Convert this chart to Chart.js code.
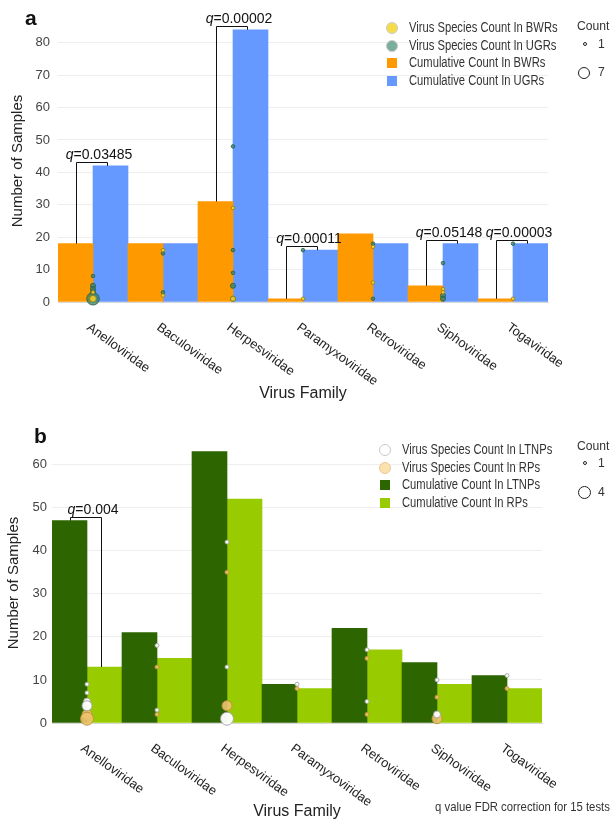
<!DOCTYPE html>
<html>
<head>
<meta charset="utf-8">
<script src="https://cdn.jsdelivr.net/npm/chart.js@4"></script>
<style>
  body { margin: 0; background: #fff; font-family: "Liberation Sans", Arial, sans-serif; }
  .panel { position: absolute; left: 0; width: 613px; }
  .tag { position: absolute; font: bold 21px "Liberation Sans", Arial, sans-serif; color: #111; }
  .leg { position: absolute; font: 14px "Liberation Sans", Arial, sans-serif; color: #333; line-height: 17.5px; }
  .leg div { position: relative; padding-left: 27px; white-space: nowrap; }
  .leg i { font-style: normal; display: inline-block; transform: scaleX(0.8); transform-origin: 0 50%; }
  .leg span { position: absolute; left: 5px; top: 4px; width: 10px; height: 10px; box-sizing: border-box; }
  .leg span.dot { left: 4px; top: 3px; width: 12px; height: 12px; border-radius: 50%; }
  .cnt { position: absolute; font: 13.5px "Liberation Sans", Arial, sans-serif; color: #333; transform: scaleX(0.9); transform-origin: 0 50%; }
  .ring { position: absolute; border: 1px solid #222; border-radius: 50%; box-sizing: border-box; }
  .note { position: absolute; right: 3px; top: 799px; font: 13px "Liberation Sans", Arial, sans-serif; color: #333; transform: scaleX(0.87); transform-origin: 100% 50%; white-space: nowrap; }
</style>
</head>
<body>

<div class="panel" style="top:0;height:410px">
  <canvas id="chartA" width="613" height="410"></canvas>
  <div class="tag" style="left:25px;top:6px">a</div>
  <div class="leg" style="left:382px;top:19px">
    <div><span class="dot" style="background:#f7dc4a;border:1px solid #c9c9c9"></span><i>Virus Species Count In BWRs</i></div>
    <div><span class="dot" style="background:#79ad9c;border:1px solid #c9c9c9"></span><i>Virus Species Count In UGRs</i></div>
    <div><span style="background:#ff9900"></span><i>Cumulative Count In BWRs</i></div>
    <div><span style="background:#6699ff"></span><i>Cumulative Count In UGRs</i></div>
  </div>
  <div class="cnt" style="left:577px;top:18px">Count</div>
  <div class="ring" style="left:583px;top:42px;width:4px;height:4px"></div>
  <div class="cnt" style="left:598px;top:36px">1</div>
  <div class="ring" style="left:578px;top:67px;width:12px;height:12px"></div>
  <div class="cnt" style="left:598px;top:64px">7</div>
</div>

<div class="panel" style="top:410px;height:414px">
  <canvas id="chartB" width="613" height="414"></canvas>
  <div class="tag" style="left:34px;top:14px">b</div>
  <div class="leg" style="left:375px;top:31px">
    <div><span class="dot" style="background:#fff;border:1px solid #c9c9c9"></span><i>Virus Species Count In LTNPs</i></div>
    <div><span class="dot" style="background:#fbe0b0;border:1px solid #e8c890"></span><i>Virus Species Count In RPs</i></div>
    <div><span style="background:#2d6600"></span><i>Cumulative Count In LTNPs</i></div>
    <div><span style="background:#99cc00"></span><i>Cumulative Count In RPs</i></div>
  </div>
  <div class="cnt" style="left:577px;top:28px">Count</div>
  <div class="ring" style="left:583px;top:51px;width:4px;height:4px"></div>
  <div class="cnt" style="left:598px;top:45px">1</div>
  <div class="ring" style="left:578px;top:76px;width:13px;height:13px"></div>
  <div class="cnt" style="left:598px;top:74px">4</div>
</div>

<div class="note">q value FDR correction for 15 tests</div>

<script>
// categories
const families = ['Anelloviridae', 'Baculoviridae', 'Herpesviridae', 'Paramyxoviridae', 'Retroviridae', 'Siphoviridae', 'Togaviridae'];

// panel a: cumulative sample counts
const bwrTotals = [18, 18, 31, 1, 21, 5, 1];
const ugrTotals = [42, 18, 84, 16, 18, 18, 18];

// panel b: cumulative sample counts
const ltnpTotals = [47, 21, 63, 9, 22, 14, 11];
const rpTotals = [13, 15, 52, 8, 17, 9, 8];

// species points: [family index, number of samples, species count]
const bwrSpecies = [[0, 3, 1], [0, 1, 3], [1, 16, 1], [1, 2, 1], [2, 29, 1], [2, 1, 2], [3, 1, 1],
  [4, 17, 1], [4, 6, 1], [5, 4, 1], [5, 3, 1], [6, 1, 1]];
const ugrSpecies = [[0, 8, 1], [0, 5, 2], [0, 4, 2], [0, 3, 2], [0, 1, 7], [1, 15, 1], [1, 3, 1],
  [2, 48, 1], [2, 16, 1], [2, 9, 1], [2, 5, 2], [2, 1, 2], [3, 16, 1], [4, 18, 1], [4, 1, 1],
  [5, 12, 1], [5, 2, 2], [5, 1, 2], [6, 18, 1]];
const ltnpSpecies = [[0, 9, 1], [0, 7, 1], [0, 5, 2], [0, 4, 3], [1, 18, 1], [1, 3, 1], [2, 42, 1],
  [2, 13, 1], [2, 1, 4], [3, 9, 1], [4, 17, 1], [4, 5, 1], [5, 10, 1], [5, 2, 2], [6, 11, 1]];
const rpSpecies = [[0, 2, 3], [0, 1, 4], [1, 13, 1], [1, 2, 1], [2, 35, 1], [2, 4, 3], [3, 8, 1],
  [4, 15, 1], [4, 2, 1], [5, 6, 1], [5, 1, 3], [6, 8, 1]];

// q values: [family index, label]
const qA = [[0, '0.03485'], [2, '0.00002'], [3, '0.00011'], [5, '0.05148'], [6, '0.00003']];
const qB = [[0, '0.004']];

const FONT = '"Liberation Sans", Arial, sans-serif';

function bubbles(list, rScale) {
    return list.map(p => ({ x: families[p[0]], y: p[1], r: rScale(p[2]) }));
}

// brackets with q labels + rotated x labels + x title
const extras = {
    id: 'extras',
    afterDatasetsDraw(chart, args, opts) {
        const ctx = chart.ctx;
        const m0 = chart.getDatasetMeta(2), m1 = chart.getDatasetMeta(3);
        ctx.save();
        ctx.strokeStyle = '#111';
        ctx.lineWidth = 1;
        opts.brackets.forEach(b => {
            const a = m0.data[b[0]], c = m1.data[b[0]];
            const x1 = Math.round(a.x) + 0.5, x2 = Math.round(c.x - 4) + 0.5;
            const top = Math.round(Math.min(a.y, c.y) - 4) + 0.5;
            ctx.beginPath();
            ctx.moveTo(x1, a.y);
            ctx.lineTo(x1, top);
            ctx.lineTo(x2, top);
            ctx.lineTo(x2, c.y);
            ctx.stroke();
            ctx.font = '14px ' + FONT;
            const rest = '=' + b[1];
            const w = ctx.measureText(rest).width;
            ctx.font = 'italic 14px ' + FONT;
            const wq = ctx.measureText('q').width;
            const cx = (x1 + x2) / 2 + 7;
            const sx = cx - (w + wq) / 2;
            ctx.fillStyle = '#111';
            ctx.textBaseline = 'alphabetic';
            ctx.textAlign = 'left';
            ctx.fillText('q', sx, top - 4);
            ctx.font = '14px ' + FONT;
            ctx.fillText(rest, sx + wq, top - 4);
        });
        ctx.restore();
    },
    afterDraw(chart, args, opts) {
        const ctx = chart.ctx;
        const xs = chart.scales.x;
        const area = chart.chartArea;
        ctx.save();
        ctx.fillStyle = '#222';
        ctx.font = '13px ' + FONT;
        ctx.textAlign = 'left';
        ctx.textBaseline = 'middle';
        families.forEach((f, i) => {
            const px = xs.getPixelForValue(i);
            ctx.save();
            ctx.translate(px - 5, area.bottom + 24);
            ctx.rotate(36 * Math.PI / 180);
            ctx.fillText(f, 0, 0);
            ctx.restore();
        });
        ctx.font = '16px ' + FONT;
        ctx.textAlign = 'center';
        ctx.fillText('Virus Family', (area.left + area.right) / 2, area.bottom + opts.titleGap);
        ctx.restore();
    }
};

function makeChart(id, cfg) {
    const ctx = document.getElementById(id).getContext('2d');
    return new Chart(ctx, {
        type: 'bar',
        data: {
            labels: families,
            datasets: [
                { type: 'bubble', label: cfg.names[0], data: bubbles(cfg.pts[0], cfg.r), backgroundColor: cfg.ptFill[0], borderColor: cfg.ptLine[0], borderWidth: 1, order: 0, clip: false },
                { type: 'bubble', label: cfg.names[1], data: bubbles(cfg.pts[1], cfg.r), backgroundColor: cfg.ptFill[1], borderColor: cfg.ptLine[1], borderWidth: 1, order: 0, clip: false },
                { label: cfg.names[2], data: cfg.bars[0], backgroundColor: cfg.barColor[0], barPercentage: 1, categoryPercentage: 1, order: 1 },
                { label: cfg.names[3], data: cfg.bars[1], backgroundColor: cfg.barColor[1], barPercentage: 1, categoryPercentage: 1, order: 1 }
            ]
        },
        options: {
            responsive: false,
            animation: false,
            devicePixelRatio: 1,
            layout: { padding: { top: cfg.padTop, right: cfg.padRight, left: 0, bottom: 0 } },
            plugins: {
                legend: { display: false },
                tooltip: { enabled: false },
                extras: { brackets: cfg.q, titleGap: cfg.titleGap }
            },
            scales: {
                x: {
                    type: 'category',
                    offset: true,
                    grid: { display: false },
                    ticks: { display: false },
                    border: { color: '#d8d8d8' },
                    afterFit: s => { s.height = cfg.xHeight; }
                },
                y: {
                    min: 0,
                    max: cfg.yMax,
                    afterBuildTicks: s => { s.ticks = s.ticks.filter(t => t.value % 10 === 0); },
                    ticks: { stepSize: 10, padding: cfg.tickPad, color: '#444', font: { family: FONT, size: 13 } },
                    grid: { color: '#eeeeee', drawTicks: false },
                    border: { display: false },
                    title: { display: true, text: 'Number of Samples', color: '#222', font: { family: FONT, size: 15 }, padding: { top: cfg.titlePad, bottom: 0 } },
                    afterFit: s => { s.width = cfg.yWidth; }
                }
            }
        },
        plugins: [extras]
    });
}

makeChart('chartA', {
    names: ['Virus Species Count In BWRs', 'Virus Species Count In UGRs', 'Cumulative Count In BWRs', 'Cumulative Count In UGRs'],
    pts: [bwrSpecies, ugrSpecies],
    bars: [bwrTotals, ugrTotals],
    r: c => 1.8 + (c - 1) * 0.75,
    ptFill: ['rgba(245,212,40,0.85)', 'rgba(50,130,100,0.75)'],
    ptLine: ['rgba(150,125,20,0.8)', 'rgba(40,95,70,0.8)'],
    barColor: ['#ff9900', '#6699ff'],
    q: qA,
    yMax: 87, padTop: 20, padRight: 65, xHeight: 108, yWidth: 58, tickPad: 8, titlePad: 9, titleGap: 92
});

makeChart('chartB', {
    names: ['Virus Species Count In LTNPs', 'Virus Species Count In RPs', 'Cumulative Count In LTNPs', 'Cumulative Count In RPs'],
    pts: [ltnpSpecies, rpSpecies],
    bars: [ltnpTotals, rpTotals],
    r: c => 2 + (c - 1) * 1.5,
    ptFill: ['rgba(255,255,255,0.95)', 'rgba(240,195,110,0.9)'],
    ptLine: ['rgba(160,160,160,0.9)', 'rgba(190,145,60,0.9)'],
    barColor: ['#2d6600', '#99cc00'],
    q: qB,
    yMax: 65, padTop: 33, padRight: 71, xHeight: 101, yWidth: 52, tickPad: 5, titlePad: 5, titleGap: 89
});
</script>
</body>
</html>
